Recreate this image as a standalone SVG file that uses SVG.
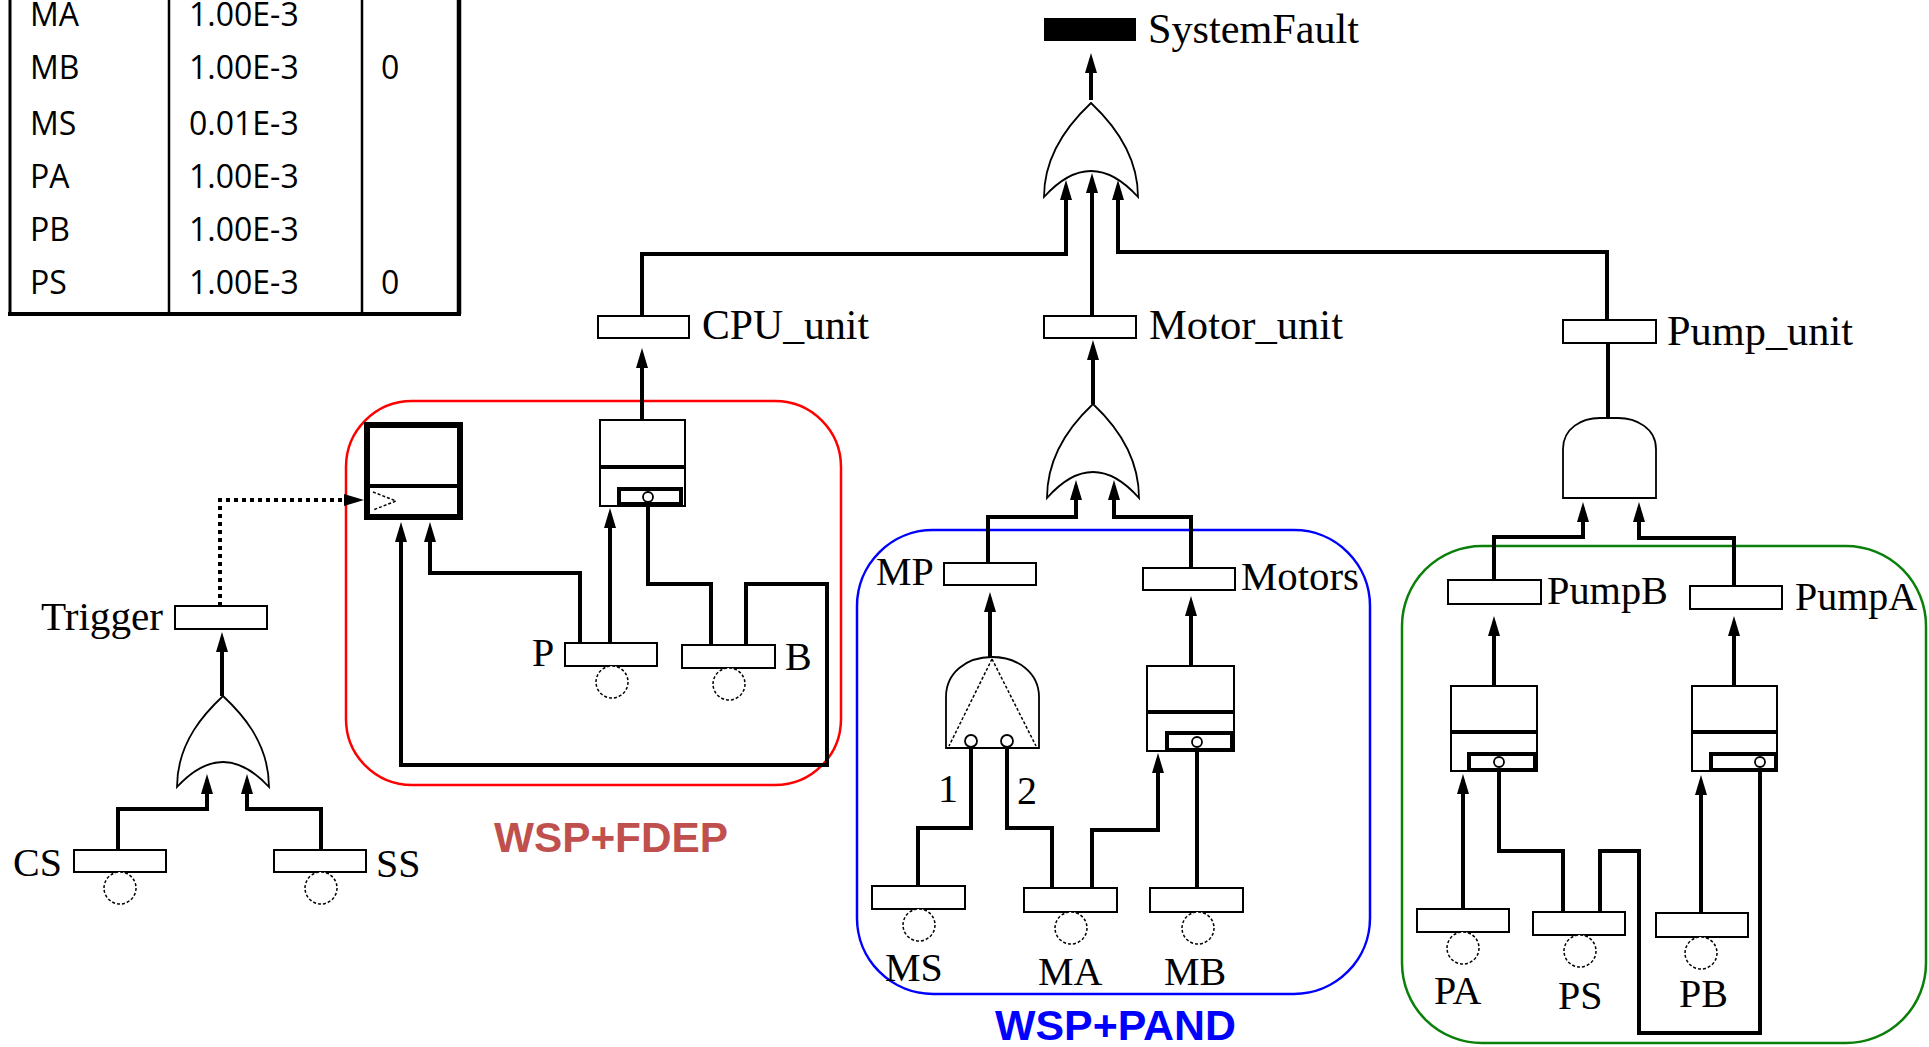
<svg xmlns="http://www.w3.org/2000/svg" width="1929" height="1047" viewBox="0 0 1929 1047">
<defs>
<marker id="ah" viewBox="0 0 20 12" refX="14" refY="6" markerWidth="20" markerHeight="12" markerUnits="userSpaceOnUse" orient="auto"><path d="M0,0 L20,6 L0,12 Z" fill="#000"/></marker>
<style>
.lbl{font-family:"Liberation Serif","DejaVu Serif",serif;font-size:40px;fill:#000}
.big{font-size:42px}
.tbl{font-family:"Open Sans","Liberation Sans",sans-serif;font-size:32px;fill:#000}
.ev{fill:#fff;stroke:#000;stroke-width:2}
.bc{fill:#fff;stroke:#000;stroke-width:1.5;stroke-dasharray:3 2}
.gate{fill:#fff;stroke:#000;stroke-width:1.8}
.dash{fill:none;stroke:#000;stroke-width:1.5;stroke-dasharray:3 2}
.thick{fill:none;stroke:#000;stroke-width:4}
.conn path{fill:none;stroke:#000;stroke-width:4}
.arr{marker-end:url(#ah)}
.dot{stroke-dasharray:4 4}
.grp{font-family:"Liberation Sans",Arial,sans-serif;font-weight:bold;font-size:42px}
.box{fill:none;stroke-width:2.5}
</style>
</defs>
<rect x="0" y="0" width="1929" height="1047" fill="#fff"/>

<g id="table">
<line x1="10" y1="-10" x2="10" y2="314" stroke="#000" stroke-width="3"/>
<line x1="459" y1="-10" x2="459" y2="314" stroke="#000" stroke-width="4.5"/>
<line x1="8" y1="314" x2="461" y2="314" stroke="#000" stroke-width="4"/>
<line x1="169" y1="-10" x2="169" y2="313" stroke="#000" stroke-width="2.5"/>
<line x1="362" y1="-10" x2="362" y2="313" stroke="#000" stroke-width="2.5"/>
<g class="tbl">
<text x="30" y="26">MA</text><text x="189" y="26">1.00E-3</text>
<text x="30" y="79">MB</text><text x="189" y="79">1.00E-3</text><text x="381" y="79">0</text>
<text x="30" y="135">MS</text><text x="189" y="135">0.01E-3</text>
<text x="30" y="188">PA</text><text x="189" y="188">1.00E-3</text>
<text x="30" y="241">PB</text><text x="189" y="241">1.00E-3</text>
<text x="30" y="294">PS</text><text x="189" y="294">1.00E-3</text><text x="381" y="294">0</text>
</g>
</g>

<g id="groups">
<rect x="346" y="401" width="495" height="384" rx="66" class="box" stroke="#ff0000"/>
<rect x="857" y="530" width="513" height="464" rx="76" class="box" stroke="#0000ff"/>
<rect x="1402" y="546" width="524" height="497" rx="80" class="box" stroke="#0a800a"/>
<text class="grp" x="494" y="852" fill="#c0504d" textLength="234" lengthAdjust="spacingAndGlyphs">WSP+FDEP</text>
<text class="grp" x="995" y="1040" fill="#0000ff" textLength="241" lengthAdjust="spacingAndGlyphs">WSP+PAND</text>
</g>

<g id="connectors" class="conn">
<path class="arr" d="M1091,100 V59"/>
<path class="arr" d="M642,316 V254 H1066 V186"/>
<path class="arr" d="M1092,316 V179"/>
<path class="arr" d="M1607,320 V252 H1118 V186"/>
<path class="arr" d="M642,420 V354"/>
<path class="arr" d="M1093,404 V346"/>
<path d="M1608,418 V343"/>
<path class="arr" d="M988,563 V517 H1076 V486"/>
<path class="arr" d="M1191,568 V517 H1114 V486"/>
<path class="arr" d="M990,657 V598"/>
<path class="arr" d="M1191,666 V602"/>
<path d="M918,886 V828 H971 V747"/>
<path d="M1052,888 V828 H1007 V747"/>
<path class="arr" d="M1092,888 V830 H1158 V759"/>
<path d="M1197,888 V748"/>
<path class="arr" d="M1494,580 V537 H1583 V508"/>
<path class="arr" d="M1734,586 V538 H1639 V508"/>
<path class="arr" d="M1494,686 V622"/>
<path class="arr" d="M1734,686 V622"/>
<path class="arr" d="M1463,909 V780"/>
<path d="M1563,912 V851 H1499 V768"/>
<path d="M1600,912 V851 H1639 V1033 H1760 V768"/>
<path class="arr" d="M1701,913 V781"/>
<path class="arr" d="M610,643 V514"/>
<path d="M711,645 V584 H648 V503"/>
<path class="arr" d="M580,643 V573 H430 V528"/>
<path class="arr" d="M746,645 V584 H827 V765 H401 V528"/>
<path class="arr dot" d="M220,606 V500 H358"/>
<path class="arr" d="M222,696 V638"/>
<path class="arr" d="M118,850 V809 H207 V780"/>
<path class="arr" d="M321,850 V809 H247 V780"/>
</g>

<g id="SystemFault"><rect x="1044" y="18" width="92" height="23" fill="#000"/><text class="lbl big" x="1148" y="43" textLength="211" lengthAdjust="spacingAndGlyphs">SystemFault</text></g>
<g id="or_top"><path class="gate" d="M1044,197 C1044,150 1075,118 1091,103 C1107,118 1138,150 1138,197 Q1091,145 1044,197 Z"/></g>
<g id="CPU_unit"><rect class="ev" x="598" y="316" width="91" height="22"/><text class="lbl big" x="702" y="339" textLength="167" lengthAdjust="spacingAndGlyphs">CPU_unit</text></g>
<g id="Motor_unit"><rect class="ev" x="1044" y="316" width="92" height="22"/><text class="lbl big" x="1149" y="339" textLength="194" lengthAdjust="spacingAndGlyphs">Motor_unit</text></g>
<g id="Pump_unit"><rect class="ev" x="1563" y="320" width="93" height="23"/><text class="lbl big" x="1667" y="345" textLength="186" lengthAdjust="spacingAndGlyphs">Pump_unit</text></g>

<g id="wsp_cpu"><rect class="ev" x="600" y="420" width="85" height="86"/><line class="thick" x1="600" y1="467" x2="685" y2="467"/><rect class="thick" x="619" y="489" width="62" height="15"/><circle class="gate" cx="648" cy="497" r="5"/></g>
<g id="fdep"><rect x="367" y="425" width="93" height="92" fill="#fff" stroke="#000" stroke-width="6"/><line class="thick" x1="367" y1="486" x2="460" y2="486"/><path class="dash" d="M373,492 L396,501 L373,510"/></g>
<g id="P"><rect class="ev" x="565" y="643" width="92" height="23"/><circle class="bc" cx="612" cy="682" r="16"/><text class="lbl" x="532" y="666">P</text></g>
<g id="B"><rect class="ev" x="682" y="645" width="93" height="23"/><circle class="bc" cx="729" cy="684" r="16"/><text class="lbl" x="785" y="670">B</text></g>

<g id="Trigger"><rect class="ev" x="175" y="606" width="92" height="23"/><text class="lbl" x="41" y="630" textLength="122" lengthAdjust="spacingAndGlyphs">Trigger</text></g>
<g id="or_trigger"><path class="gate" d="M177,787 C177,741 207,711 223,696 C239,711 269,741 269,787 Q223,737 177,787 Z"/></g>
<g id="CS"><rect class="ev" x="74" y="850" width="92" height="22"/><circle class="bc" cx="120" cy="888" r="16"/><text class="lbl" x="13" y="876">CS</text></g>
<g id="SS"><rect class="ev" x="274" y="850" width="92" height="22"/><circle class="bc" cx="321" cy="888" r="16"/><text class="lbl" x="376" y="877">SS</text></g>

<g id="or_motor"><path class="gate" d="M1047,498 C1047,451 1077,419 1093,404 C1109,419 1139,451 1139,498 Q1093,446 1047,498 Z"/></g>
<g id="MP"><rect class="ev" x="944" y="563" width="92" height="22"/><text class="lbl" x="876" y="585">MP</text></g>
<g id="Motors"><rect class="ev" x="1143" y="568" width="92" height="22"/><text class="lbl" x="1241" y="590" textLength="118" lengthAdjust="spacingAndGlyphs">Motors</text></g>
<g id="pand"><path class="gate" d="M946,748 V697 C946,673 966,657 992,657 C1018,657 1039,673 1039,697 V748 Z"/><path class="dash" d="M992,659 L949,746 M992,659 L1036,746"/><circle class="gate" cx="971" cy="741" r="6"/><circle class="gate" cx="1007" cy="741" r="6"/><text class="lbl" x="938" y="802">1</text><text class="lbl" x="1017" y="804">2</text></g>
<g id="wsp_motors"><rect class="ev" x="1147" y="666" width="87" height="85"/><line class="thick" x1="1147" y1="712" x2="1234" y2="712"/><rect class="thick" x="1167" y="733" width="65" height="17"/><circle class="gate" cx="1197" cy="742" r="5"/></g>
<g id="MS"><rect class="ev" x="872" y="886" width="93" height="23"/><circle class="bc" cx="919" cy="925" r="16"/><text class="lbl" x="885" y="981">MS</text></g>
<g id="MA"><rect class="ev" x="1024" y="888" width="93" height="24"/><circle class="bc" cx="1071" cy="928" r="16"/><text class="lbl" x="1038" y="985">MA</text></g>
<g id="MB"><rect class="ev" x="1150" y="888" width="93" height="24"/><circle class="bc" cx="1198" cy="928" r="16"/><text class="lbl" x="1164" y="985">MB</text></g>

<g id="and_pump"><path class="gate" d="M1563,498 V449 C1563,428 1582,418 1600,418 H1618 C1636,418 1656,428 1656,449 V498 Z"/></g>
<g id="PumpB"><rect class="ev" x="1448" y="580" width="93" height="24"/><text class="lbl" x="1547" y="604" textLength="121" lengthAdjust="spacingAndGlyphs">PumpB</text></g>
<g id="PumpA"><rect class="ev" x="1690" y="586" width="92" height="23"/><text class="lbl" x="1795" y="610" textLength="122" lengthAdjust="spacingAndGlyphs">PumpA</text></g>
<g id="wsp_pumpB"><rect class="ev" x="1451" y="686" width="86" height="85"/><line class="thick" x1="1451" y1="732" x2="1537" y2="732"/><rect class="thick" x="1469" y="754" width="66" height="16"/><circle class="gate" cx="1499" cy="762" r="5"/></g>
<g id="wsp_pumpA"><rect class="ev" x="1692" y="686" width="85" height="85"/><line class="thick" x1="1692" y1="732" x2="1777" y2="732"/><rect class="thick" x="1711" y="754" width="65" height="16"/><circle class="gate" cx="1760" cy="762" r="5"/></g>
<g id="PA"><rect class="ev" x="1417" y="909" width="92" height="23"/><circle class="bc" cx="1463" cy="948" r="16"/><text class="lbl" x="1434" y="1004">PA</text></g>
<g id="PS"><rect class="ev" x="1533" y="912" width="92" height="23"/><circle class="bc" cx="1580" cy="951" r="16"/><text class="lbl" x="1558" y="1009">PS</text></g>
<g id="PB"><rect class="ev" x="1656" y="913" width="92" height="24"/><circle class="bc" cx="1701" cy="953" r="16"/><text class="lbl" x="1679" y="1007">PB</text></g>
</svg>
